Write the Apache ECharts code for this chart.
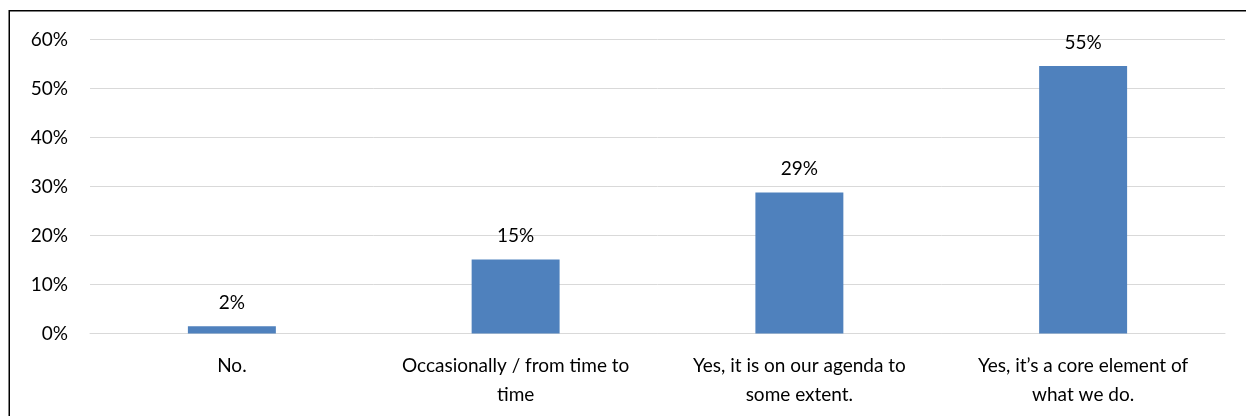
<!DOCTYPE html>
<html>
<head>
<meta charset="utf-8">
<script src="https://cdn.jsdelivr.net/npm/echarts@6/dist/echarts.min.js"></script>
<style>
html,body{margin:0;padding:0;background:#fff;}
#c{width:1246px;height:416px;}
</style>
</head>
<body>
<div id="c"></div>
<script>
var categories = ["No.", "Occasionally / from time to\ntime", "Yes, it is on our agenda to\nsome extent.", "Yes, it\u2019s a core element of\nwhat we do."];
var values = [1.5, 15.1, 28.8, 54.6];
var yTicks = {min: 0, max: 60, interval: 10};

var chart = echarts.init(document.getElementById('c'));
var FONT = 'Lato';
chart.setOption({
  animation: false,
  backgroundColor: '#ffffff',
  grid: {left: 90, right: 21, top: 39.5, bottom: 82.5, containLabel: false},
  xAxis: {
    type: 'category',
    data: categories,
    axisLine: {show: true, lineStyle: {color: '#d9d9d9', width: 1}},
    axisTick: {show: false},
    axisLabel: {color: '#000', fontFamily: FONT, fontSize: 19, lineHeight: 29, margin: 18, interval: 0}
  },
  yAxis: {
    type: 'value',
    min: yTicks.min, max: yTicks.max, interval: yTicks.interval,
    axisLine: {show: false},
    axisTick: {show: false},
    splitLine: {lineStyle: {color: '#d9d9d9', width: 1}},
    axisLabel: {color: '#000', fontFamily: FONT, fontSize: 19, margin: 22, formatter: '{value}%'}
  },
  series: [{
    type: 'bar',
    data: values,
    barCategoryGap: '69%',
    itemStyle: {color: '#4f81bd'},
    label: {
      show: true, position: 'top', distance: 14,
      color: '#000', fontFamily: FONT, fontSize: 19,
      formatter: function (p) { return Math.round(p.value) + '%'; }
    }
  }],
  graphic: [{
    type: 'polyline',
    silent: true,
    shape: {points: [[9.25, 416], [9.25, 10.75], [1246, 10.75]]},
    style: {stroke: '#000', lineWidth: 1.5, fill: null}
  }]
});
</script>
</body>
</html>
